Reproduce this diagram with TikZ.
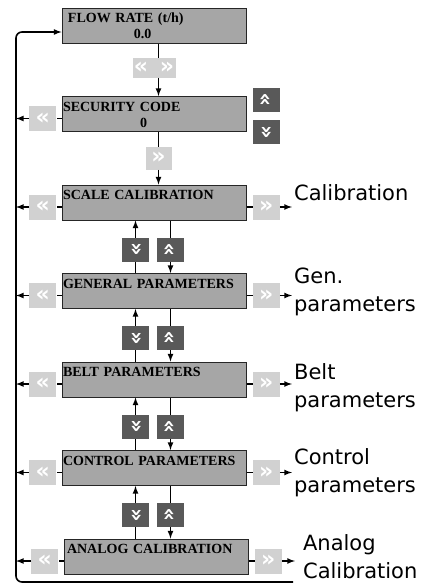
\documentclass[tikz,border=0pt]{standalone}
\usepackage{fontspec}
\setmainfont{Liberation Serif}
\newfontfamily\sidefont{DejaVu Sans}
\usepackage{tikz}
\usetikzlibrary{arrows, positioning}

\begin{document}
\begin{tikzpicture}[
    x=1pt, y=-1pt,
    >=latex,
    node distance=52.5pt,
    screen/.style={rectangle, draw=black!85, fill=black!35, line width=1pt, minimum width=184pt, minimum height=35pt, text width=182pt, inner xsep=1pt, inner ysep=0pt, text height=14.5pt, text depth=20.5pt, align=left, font=\fontsize{14}{17}\selectfont\bfseries},
    value/.style={inner sep=0pt, font=\fontsize{14}{17}\selectfont\bfseries},
    softkey/.style={rectangle, fill=black!18, minimum width=27pt, minimum height=25pt, inner sep=0pt, text=white, font=\sidefont\fontsize{22}{22}\selectfont\bfseries},
    arrowkey/.style={rectangle, fill=black!65, minimum width=27pt, minimum height=24pt, inner sep=0pt, text=white, font=\sidefont\fontsize{21}{21}\selectfont\bfseries},
    conn/.style={line width=1.6pt, draw=black},
    menu/.style={anchor=base west, inner xsep=2pt, inner ysep=0pt, align=left, font=\sidefont\fontsize{21}{28}\selectfont}
]
    \useasboundingbox (0,0) rectangle (433,584);

    % Display screens
    \node[screen] (flow) at (154,25.5) {\hspace*{5pt}FLOW RATE (t/h)};
    \node[value] (flowval) at ([shift={(81pt,9.5pt)}]flow.south west) {0.0};
    \node[screen, below=of flow] (sec) {SECURITY CODE};
    \node[value] (secval) at ([shift={(82pt,9.5pt)}]sec.south west) {0};
    \node[screen, below=of sec] (scale) {SCALE CALIBRATION};
    \node[screen, below=of scale] (gen) {GENERAL PARAMETERS};
    \node[screen, below=of gen] (belt) {BELT PARAMETERS};
    \node[screen, below=of belt] (control) {CONTROL PARAMETERS};
    \node[screen, below=of control, xshift=2pt] (analog) {\hspace*{2pt}ANALOG CALIBRATION};

    % Keys on the top screens
    \node[softkey, minimum width=43pt, minimum height=20pt, below=14pt of flow.south] (flowkey) {«\hspace{12pt}»};
    \node[softkey, minimum width=26pt, minimum height=23pt, below=14.5pt of sec.south, xshift=4.5pt] (seckey) {»};
    \node[softkey, left=5pt of sec, yshift=-4.5pt] (secleft) {«};
    \node[arrowkey, anchor=north west] (secup) at ([shift={(6pt,8.5pt)}]sec.north east) {\rotatebox{90}{»}};
    \node[arrowkey, below=8pt of secup] (secdown) {\rotatebox{-90}{»}};

    % Side keys
    \node[softkey, left=5pt of scale, yshift=-4.5pt] (scaleleft) {«};
    \node[softkey, right=6pt of scale, yshift=-4.5pt] (scaleright) {»};
    \node[softkey, left=5pt of gen, yshift=-4.5pt] (genleft) {«};
    \node[softkey, right=6pt of gen, yshift=-4.5pt] (genright) {»};
    \node[softkey, left=5pt of belt, yshift=-4.5pt] (beltleft) {«};
    \node[softkey, right=6pt of belt, yshift=-4.5pt] (beltright) {»};
    \node[softkey, left=5pt of control, yshift=-4.5pt] (controlleft) {«};
    \node[softkey, right=6pt of control, yshift=-4.5pt] (controlright) {»};
    \node[softkey, left=5pt of analog, yshift=-4.5pt] (analogleft) {«};
    \node[softkey, right=6pt of analog, yshift=-4.5pt] (analogright) {»};

    % Up / down keys between screens
    \node[arrowkey, below=17pt of scale.south, xshift=-18.5pt] (scaledown) {\rotatebox{-90}{»}};
    \node[arrowkey, below=17pt of scale.south, xshift=16.5pt] (scaleup) {\rotatebox{90}{»}};
    \node[arrowkey, below=17pt of gen.south, xshift=-18.5pt] (gendown) {\rotatebox{-90}{»}};
    \node[arrowkey, below=17pt of gen.south, xshift=16.5pt] (genup) {\rotatebox{90}{»}};
    \node[arrowkey, below=17pt of belt.south, xshift=-18.5pt] (beltdown) {\rotatebox{-90}{»}};
    \node[arrowkey, below=17pt of belt.south, xshift=16.5pt] (beltup) {\rotatebox{90}{»}};
    \node[arrowkey, below=17pt of control.south, xshift=-18.5pt] (controldown) {\rotatebox{-90}{»}};
    \node[arrowkey, below=17pt of control.south, xshift=16.5pt] (controlup) {\rotatebox{90}{»}};

    % Menu names
    \node[menu] (calib) at ([shift={(12pt,7pt)}]scaleright.east) {Calibration};
    \node[menu] (genpar) at ([shift={(12pt,-16pt)}]genright.east) {Gen.\\parameters};
    \node[menu] (beltpar) at ([shift={(12pt,-23pt)}]beltright.east) {Belt\\parameters};
    \node[menu] (controlpar) at ([shift={(12pt,-20pt)}]controlright.east) {Control\\parameters};
    \node[menu, inner xsep=8pt] (analogcal) at ([shift={(13pt,-17pt)}]analogright.east) {Analog\\Calibration};

    % Return line
    \coordinate (ltop) at (16,32);
    \coordinate (lbot) at (16,582);
    \coordinate (lend) at (293,582);
    \draw[conn, ->, rounded corners=6pt] (lend) -- (lbot) -- (ltop) -- (flow.west |- ltop);

    % Connections
    \draw[conn] ([xshift=4.5pt]flow.south) -- ([xshift=4.5pt]flowkey.north);
    \draw[conn, ->] ([xshift=4.5pt]flowkey.south) -- ([xshift=4.5pt]sec.north);
    \draw[conn, ->] (sec.south -| seckey) -- (seckey) -- (seckey |- scale.north);
    \draw[conn, ->] (sec.west |- secleft) -- (secleft) -- (secleft -| ltop);

    \draw[conn, ->] (scale.west |- scaleleft) -- (scaleleft) -- (scaleleft -| ltop);
    \draw[conn, ->] (scale.east |- scaleright) -- (scaleright) -- (scaleright -| calib.west);
    \draw[conn, ->] (gen.west |- genleft) -- (genleft) -- (genleft -| ltop);
    \draw[conn, ->] (gen.east |- genright) -- (genright) -- (genright -| genpar.west);
    \draw[conn, ->] (belt.west |- beltleft) -- (beltleft) -- (beltleft -| ltop);
    \draw[conn, ->] (belt.east |- beltright) -- (beltright) -- (beltright -| beltpar.west);
    \draw[conn, ->] (control.west |- controlleft) -- (controlleft) -- (controlleft -| ltop);
    \draw[conn, ->] (control.east |- controlright) -- (controlright) -- (controlright -| controlpar.west);
    \draw[conn, ->] (analog.west |- analogleft) -- (analogleft) -- (analogleft -| ltop);
    \draw[conn, ->] (analog.east |- analogright) -- (analogright) -- (analogright -| analogcal.west);

    \draw[conn, ->] (gen.north -| scaledown) -- (scaledown) -- (scaledown |- scale.south);
    \draw[conn, ->] (scale.south -| scaleup) -- (scaleup) -- (scaleup |- gen.north);
    \draw[conn, ->] (belt.north -| gendown) -- (gendown) -- (gendown |- gen.south);
    \draw[conn, ->] (gen.south -| genup) -- (genup) -- (genup |- belt.north);
    \draw[conn, ->] (control.north -| beltdown) -- (beltdown) -- (beltdown |- belt.south);
    \draw[conn, ->] (belt.south -| beltup) -- (beltup) -- (beltup |- control.north);
    \draw[conn, ->] (analog.north -| controldown) -- (controldown) -- (controldown |- control.south);
    \draw[conn, ->] (control.south -| controlup) -- (controlup) -- (controlup |- analog.north);

\end{tikzpicture}
\end{document}
